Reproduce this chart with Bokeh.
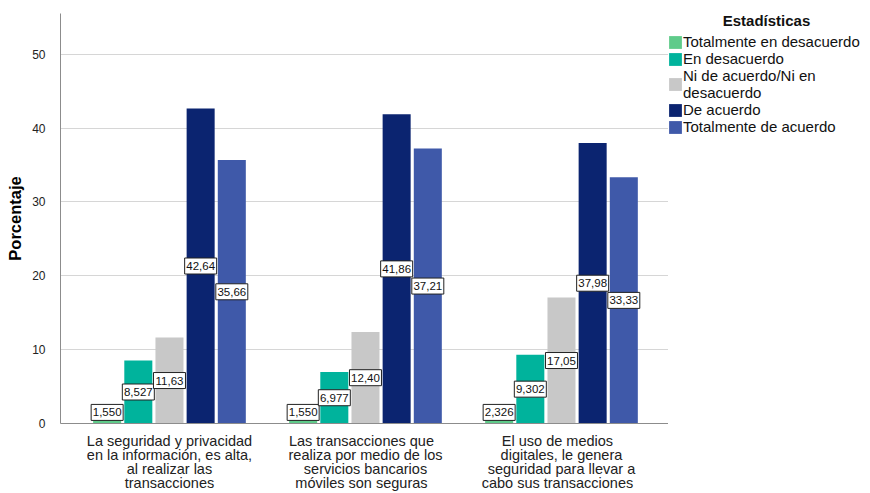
import numpy as np
from bokeh.plotting import figure
from bokeh.layouts import row
from bokeh.models import Range1d, FixedTicker, Legend, LegendItem, ColumnDataSource, Label
from bokeh.core.properties import value
from bokeh.embed import file_html
from bokeh.resources import INLINE

# ---- data ----
categories = [
    "La seguridad y privacidad\nen la información, es alta,\nal realizar las\ntransacciones",
    "Las   transacciones que\nrealiza por medio de los\nservicios bancarios\nmóviles son   seguras",
    "El   uso de medios\ndigitales, le genera\nseguridad para llevar a\ncabo sus   transacciones",
]
series_names = [
    "Totalmente en desacuerdo",
    "En desacuerdo",
    "Ni de acuerdo/Ni en\ndesacuerdo",
    "De acuerdo",
    "Totalmente de acuerdo",
]
tot_desacuerdo = [1.550, 1.550, 2.326]
en_desacuerdo = [8.527, 6.977, 9.302]
ni_ni = [11.63, 12.40, 17.05]
de_acuerdo = [42.64, 41.86, 37.98]
tot_acuerdo = [35.66, 37.21, 33.33]
y_ticks = [0, 10, 20, 30, 40, 50]
legend_title = "Estadísticas"
y_label = "Porcentaje"

colors = ["#5fcb8a", "#00b39c", "#c8c8c8", "#0b2470", "#3f59a9"]
FONT = "Liberation Sans"

series = [tot_desacuerdo, en_desacuerdo, ni_ni, de_acuerdo, tot_acuerdo]

p = figure(width=668, height=493,
           x_range=Range1d(0.444, 3.546), y_range=Range1d(0, 55.5),
           output_backend="svg", toolbar_location=None,
           min_border_left=60, min_border_right=0,
           min_border_top=13, min_border_bottom=65)
p.outline_line_color = None
p.background_fill_color = "white"
p.border_fill_color = "white"

step = 0.159
bar_w = 0.143
base = np.arange(1, len(categories) + 1, dtype=float)

label_data = []
for i, (name, vals, col) in enumerate(zip(series_names, series, colors)):
    xs = base + (i - 2) * step
    p.vbar(x=xs, top=vals, width=bar_w, fill_color=col, line_color=None)
    v = np.array(vals, dtype=float)
    ly = np.maximum(v / 2.0, 1.5)
    txt = [f"{x:#.4g}".replace(".", ",") for x in v]
    label_data.append((xs, ly, txt))

for xs, ly, txt in label_data:
    src = ColumnDataSource(dict(x=xs, y=ly, t=txt))
    p.rect(x="x", y="y", width=32, height=16, width_units="screen",
           height_units="screen", source=src, fill_color="white",
           line_color="#222222", line_width=1)
    p.text(x="x", y="y", text="t", source=src, text_align="center",
           text_baseline="middle", text_font=value(FONT),
           text_font_size="11.5px", text_color="#111111")

# axes
p.xaxis.ticker = FixedTicker(ticks=list(base))
p.xaxis.major_label_overrides = {float(b): c for b, c in zip(base, categories)}
p.xaxis.major_tick_line_color = None
p.xaxis.minor_tick_line_color = None
p.xaxis.axis_line_color = "#8c8c8c"
p.xaxis.major_label_text_font = FONT
p.xaxis.major_label_text_font_size = "14.5px"
p.xaxis.major_label_text_color = "#222222"
p.xaxis.major_label_text_line_height = 0.88
p.xaxis.major_label_standoff = 3
p.xgrid.grid_line_color = None

p.yaxis.ticker = FixedTicker(ticks=y_ticks)
p.yaxis.major_tick_line_color = None
p.yaxis.minor_tick_line_color = None
p.yaxis.axis_line_color = "#8c8c8c"
p.yaxis.major_label_text_font = FONT
p.yaxis.major_label_text_font_size = "12px"
p.yaxis.major_label_text_color = "#222222"
p.yaxis.major_label_standoff = 9
p.yaxis.axis_label = y_label
p.yaxis.axis_label_text_font = FONT
p.yaxis.axis_label_text_font_size = "16.5px"
p.yaxis.axis_label_text_font_style = "bold"
p.yaxis.axis_label_text_color = "black"
p.yaxis.axis_label_standoff = 5
p.ygrid.ticker = FixedTicker(ticks=y_ticks)
p.ygrid.grid_line_color = "#d6d6d6"

# ---- legend panel (frame aligned with the main plot's frame) ----
q = figure(width=202, height=493, x_range=Range1d(0, 1), y_range=Range1d(0, 1),
           output_backend="svg", toolbar_location=None,
           x_axis_location=None, y_axis_location=None, min_border=0)
q.outline_line_color = None
q.grid.visible = False
q.background_fill_color = "white"
q.border_fill_color = "white"

items = []
for name, col in zip(series_names, colors):
    # zero-height swatch renderer, used only for the legend glyph
    r = q.vbar(x=[0], top=[0], width=0, fill_color=col, line_color=None)
    items.append(LegendItem(label=name, renderers=[r]))

legend = Legend(items=items, location=(-1, 288))
legend.border_line_color = None
legend.background_fill_alpha = 0
legend.label_text_font = FONT
legend.label_text_font_size = "15px"
legend.label_text_color = "#111111"
legend.glyph_width = 16
legend.glyph_height = 16
legend.label_standoff = 0
legend.label_height = 16
legend.spacing = 0
legend.padding = 0
legend.margin = 0
q.add_layout(legend)

title = Label(x=98, y=403, x_units="screen", y_units="screen",
              text=legend_title, text_align="center", text_baseline="middle",
              text_font=FONT, text_font_size="15px", text_font_style="bold",
              text_color="#111111")
q.add_layout(title)

layout = row(p, q)
open("out.html", "w").write(file_html(layout, INLINE))
